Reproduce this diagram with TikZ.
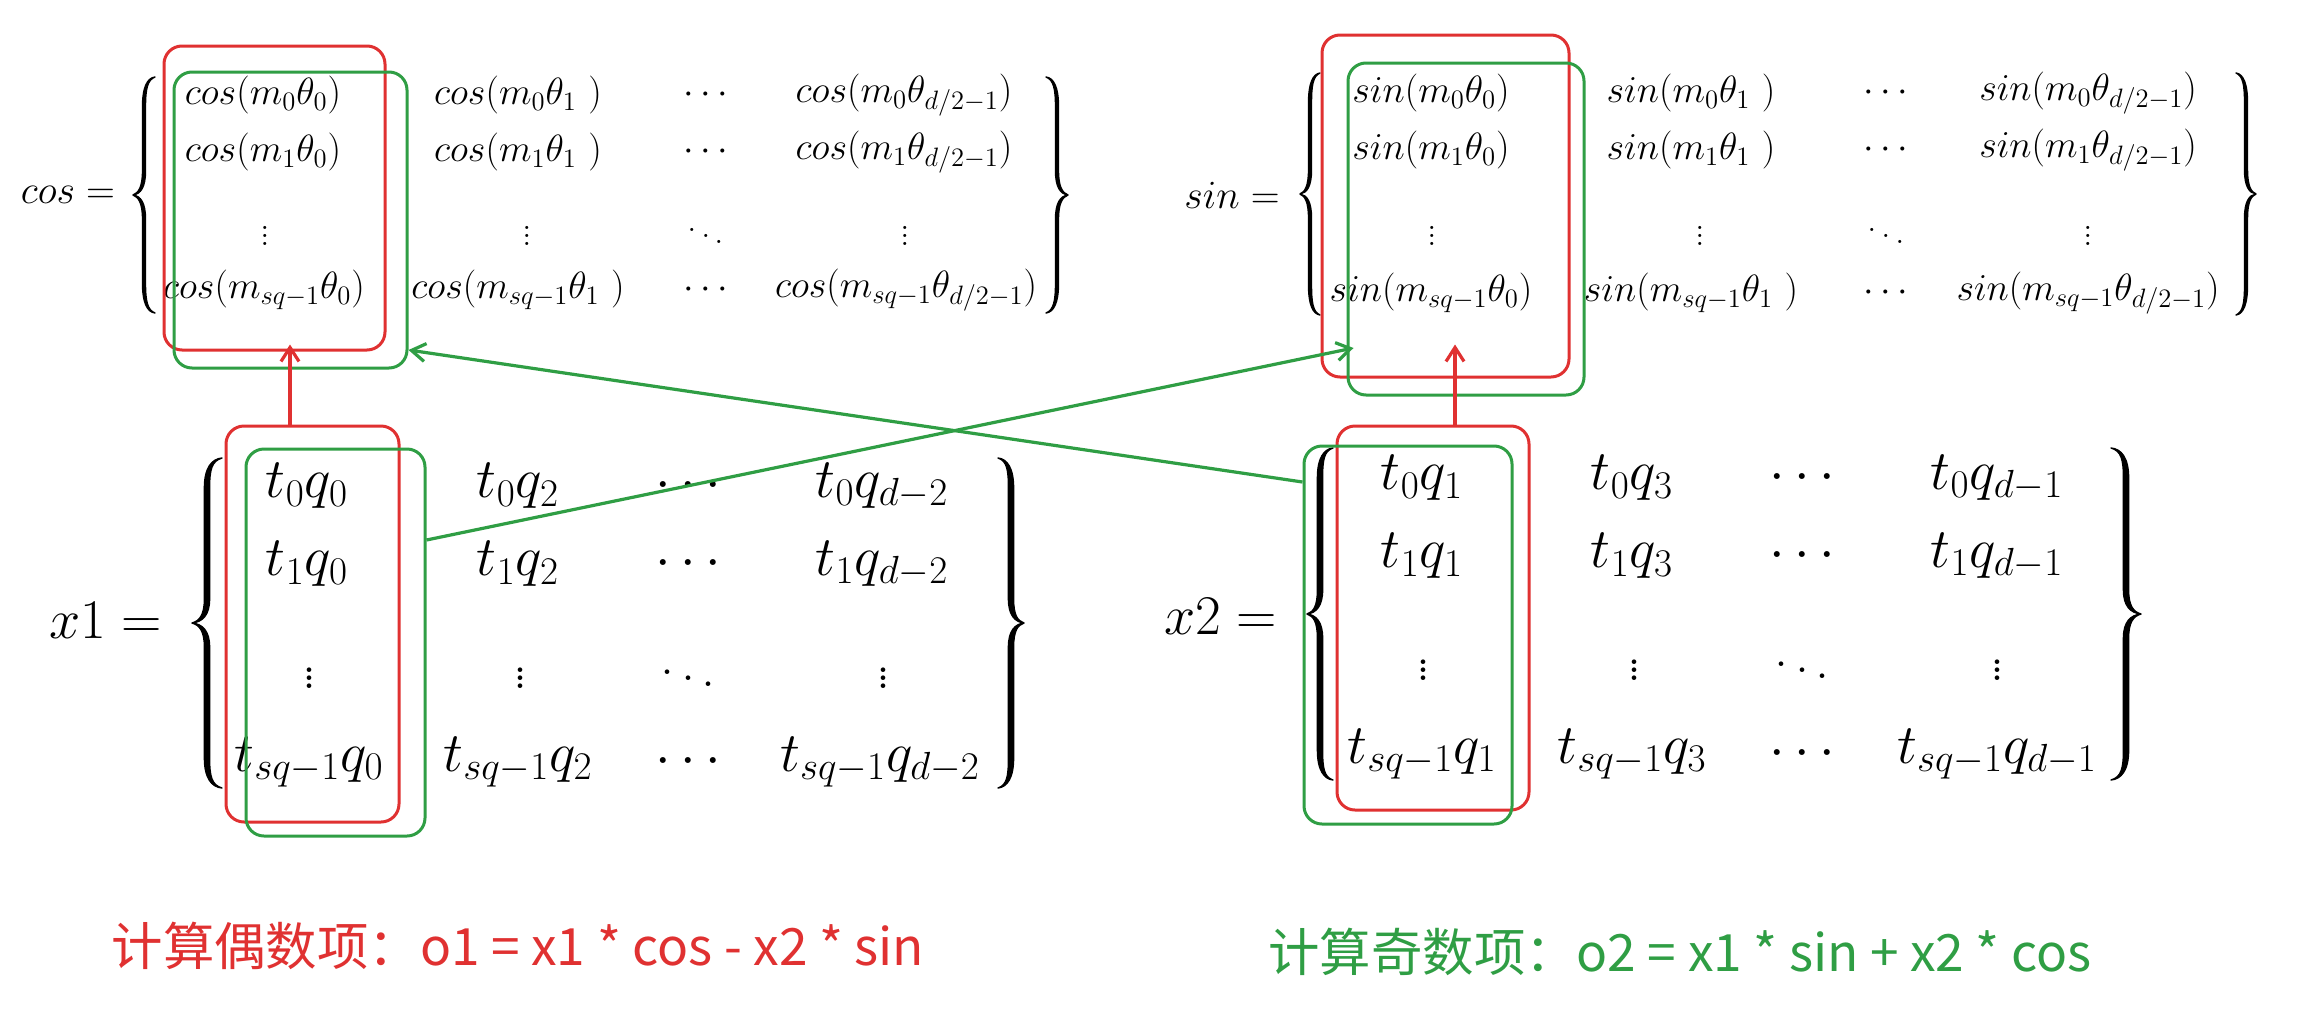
\RequirePackage{fix-cm}
\documentclass[tikz,border=0pt]{standalone}
\usepackage{fontspec}
\newfontfamily\cjk{Noto Sans CJK SC}
\usetikzlibrary{arrows.meta}
\definecolor{exred}{HTML}{E03131}
\definecolor{exgreen}{HTML}{2F9E44}
% tapered curly brace: #1 arm x, #2 top y, #3 middle y, #4 bottom y,
% #5 signed half width (positive: opens right), #6 signed half thickness (same sign)
\newcommand{\curlybrace}[6]{%
  \filldraw[line width=0.7pt, line join=round]
    ({#1+#5},#2) .. controls ({#1+0.3*#5},{#2+1}) and ({#1-#6},{#2+10}) .. ({#1-#6},{#2+30})
    -- ({#1-#6},{#3-24}) .. controls ({#1-#6},{#3-8}) and ({#1-0.5*#5},{#3-2}) .. ({#1-#5},#3)
    .. controls ({#1-0.5*#5},{#3+2}) and ({#1-#6},{#3+8}) .. ({#1-#6},{#3+24})
    -- ({#1-#6},{#4-30}) .. controls ({#1-#6},{#4-10}) and ({#1+0.3*#5},{#4-1}) .. ({#1+#5},#4)
    .. controls ({#1+0.3*#5},{#4-3}) and ({#1+#6},{#4-12}) .. ({#1+#6},{#4-30})
    -- ({#1+#6},{#3+24}) .. controls ({#1+#6},{#3+8}) and ({#1-0.3*#5},{#3+1}) .. ({#1-#5},#3)
    .. controls ({#1-0.3*#5},{#3-1}) and ({#1+#6},{#3-8}) .. ({#1+#6},{#3-24})
    -- ({#1+#6},{#2+30}) .. controls ({#1+#6},{#2+12}) and ({#1+0.3*#5},{#2+3}) .. ({#1+#5},#2)
    -- cycle;
}
\tikzset{
  box/.style={draw, rounded corners=9pt, line width=1.5pt, inner sep=0pt},
  rbox/.style={box, draw=exred},
  gbox/.style={box, draw=exgreen},
  ent/.style={inner sep=0pt, anchor=center},
  trig/.style={ent, font=\fontsize{19}{23}\selectfont},
  xent/.style={ent, font=\fontsize{28}{34}\selectfont},
  smlbl/.style={ent, font=\fontsize{20}{24}\selectfont},
  biglbl/.style={ent, font=\fontsize{28}{34}\selectfont},
  rconn/.style={line width=1.6pt, draw=exred, -{Straight Barb[length=7pt,width=9pt]}},
  gconn/.style={line width=1.6pt, draw=exgreen, -{Straight Barb[length=7pt,width=9pt]}},
  note/.style={ent, font=\cjk\fontsize{25.7}{30}\selectfont},
}
\begin{document}
\begin{tikzpicture}[x=0.5pt,y=-0.5pt]
\useasboundingbox (0,0) rectangle (2316,1028);
\fill[white] (0,0) rectangle (2316,1028);

% ---------- braces ----------
\curlybrace{144}{77}{195}{313}{11}{1.5}
\curlybrace{1057}{77}{195}{313}{-11}{-1.5}
\curlybrace{1310}{73}{194}{315}{10}{1.5}
\curlybrace{2246}{73}{194}{315}{-10}{-1.5}
\curlybrace{207}{458}{623}{788}{15}{2.6}
\curlybrace{1011}{458}{623}{788}{-13}{-2.6}
\curlybrace{1320}{448}{614}{780}{13}{2.6}
\curlybrace{2126}{448}{614}{780}{-15}{-2.6}

% ---------- cos matrix ----------
\node[smlbl] (coslbl) at (68,195) {$cos=$};
\node[trig] (c11) at (263,95) {$cos(m_0\theta_0)$};
\node[trig] (c12) at (518,95) {$cos(m_0\theta_1\ )$};
\node[trig] (c13) at (706,95) {$\cdots$};
\node[trig] (c14) at (904,95) {$cos(m_0\theta_{d/2-1})$};
\node[trig] (c21) at (263,152) {$cos(m_1\theta_0)$};
\node[trig] (c22) at (518,152) {$cos(m_1\theta_1\ )$};
\node[trig] (c23) at (706,152) {$\cdots$};
\node[trig] (c24) at (904,152) {$cos(m_1\theta_{d/2-1})$};
\node[trig] (c31) at (265,230) {$\vdots$};
\node[trig] (c32) at (527,230) {$\vdots$};
\node[trig] (c33) at (706,230) {$\ddots$};
\node[trig] (c34) at (905,230) {$\vdots$};
\node[trig] (c41) at (264,290) {$cos(m_{sq-1}\theta_0)$};
\node[trig] (c42) at (518,290) {$cos(m_{sq-1}\theta_1\ )$};
\node[trig] (c43) at (706,290) {$\cdots$};
\node[trig] (c44) at (906,290) {$cos(m_{sq-1}\theta_{d/2-1})$};

% ---------- sin matrix ----------
\node[smlbl] (sinlbl) at (1232,195) {$sin=$};
\node[trig] (s11) at (1431,93) {$sin(m_0\theta_0)$};
\node[trig] (s12) at (1691,93) {$sin(m_0\theta_1\ )$};
\node[trig] (s13) at (1886,93) {$\cdots$};
\node[trig] (s14) at (2088,93) {$sin(m_0\theta_{d/2-1})$};
\node[trig] (s21) at (1431,150) {$sin(m_1\theta_0)$};
\node[trig] (s22) at (1691,150) {$sin(m_1\theta_1\ )$};
\node[trig] (s23) at (1886,150) {$\cdots$};
\node[trig] (s24) at (2088,150) {$sin(m_1\theta_{d/2-1})$};
\node[trig] (s31) at (1432,230) {$\vdots$};
\node[trig] (s32) at (1700,230) {$\vdots$};
\node[trig] (s33) at (1886,230) {$\ddots$};
\node[trig] (s34) at (2088,230) {$\vdots$};
\node[trig] (s41) at (1431,293) {$sin(m_{sq-1}\theta_0)$};
\node[trig] (s42) at (1691,293) {$sin(m_{sq-1}\theta_1\ )$};
\node[trig] (s43) at (1886,293) {$\cdots$};
\node[trig] (s44) at (2088,293) {$sin(m_{sq-1}\theta_{d/2-1})$};

% ---------- x1 matrix ----------
\node[biglbl] (x1lbl) at (106,620) {$x1=$};
\node[xent] (a11) at (307,486) {$t_0q_0$};
\node[xent] (a12) at (518,486) {$t_0q_2$};
\node[xent] (a13) at (688,486) {$\cdots$};
\node[xent] (a14) at (882,486) {$t_0q_{d-2}$};
\node[xent] (a21) at (307,564) {$t_1q_0$};
\node[xent] (a22) at (518,564) {$t_1q_2$};
\node[xent] (a23) at (688,564) {$\cdots$};
\node[xent] (a24) at (882,564) {$t_1q_{d-2}$};
\node[xent] (a31) at (309,672) {$\vdots$};
\node[xent] (a32) at (520,672) {$\vdots$};
\node[xent] (a33) at (688,672) {$\ddots$};
\node[xent] (a34) at (883,672) {$\vdots$};
\node[xent] (a41) at (309,762) {$t_{sq-1}q_0$};
\node[xent] (a42) at (518,762) {$t_{sq-1}q_2$};
\node[xent] (a43) at (688,762) {$\cdots$};
\node[xent] (a44) at (880,762) {$t_{sq-1}q_{d-2}$};

% ---------- x2 matrix ----------
\node[biglbl] (x2lbl) at (1221,616) {$x2=$};
\node[xent] (b11) at (1422,478) {$t_0q_1$};
\node[xent] (b12) at (1632,478) {$t_0q_3$};
\node[xent] (b13) at (1802,478) {$\cdots$};
\node[xent] (b14) at (1997,478) {$t_0q_{d-1}$};
\node[xent] (b21) at (1422,556) {$t_1q_1$};
\node[xent] (b22) at (1632,556) {$t_1q_3$};
\node[xent] (b23) at (1802,556) {$\cdots$};
\node[xent] (b24) at (1997,556) {$t_1q_{d-1}$};
\node[xent] (b31) at (1423,664) {$\vdots$};
\node[xent] (b32) at (1634,664) {$\vdots$};
\node[xent] (b33) at (1802,664) {$\ddots$};
\node[xent] (b34) at (1997,664) {$\vdots$};
\node[xent] (b41) at (1422,754) {$t_{sq-1}q_1$};
\node[xent] (b42) at (1632,754) {$t_{sq-1}q_3$};
\node[xent] (b43) at (1802,754) {$\cdots$};
\node[xent] (b44) at (1997,754) {$t_{sq-1}q_{d-1}$};

% ---------- highlight boxes ----------
\node[rbox, minimum width=110.5pt, minimum height=152pt] (cosR) at (274.5,198) {};
\node[gbox, minimum width=116.5pt, minimum height=148pt] (cosG) at (290.5,220) {};
\node[rbox, minimum width=123.5pt, minimum height=171pt] (sinR) at (1445.5,206) {};
\node[gbox, minimum width=118pt, minimum height=166pt] (sinG) at (1466,229) {};
\node[rbox, minimum width=86.5pt, minimum height=198pt] (x1R) at (312.5,624) {};
\node[gbox, minimum width=89.5pt, minimum height=193.5pt] (x1G) at (335.5,642.5) {};
\node[rbox, minimum width=96pt, minimum height=192pt] (x2R) at (1433,618) {};
\node[gbox, minimum width=104pt, minimum height=189pt] (x2G) at (1408,635) {};

% ---------- connectors ----------
\draw[rconn] ([xshift=-11.25pt]x1R.north) -- ([xshift=7.75pt,yshift=3.5pt]cosR.south);
\draw[rconn] ([xshift=11pt]x2R.north) -- ([xshift=4.75pt,yshift=17pt]sinR.south);
\draw[gconn] ([yshift=76.5pt]x2G.west) -- ([yshift=-65pt]cosG.east);
\draw[gconn] ([yshift=51.25pt]x1G.east) -- ([xshift=3.5pt,yshift=-59.5pt]sinG.west);

% ---------- notes ----------
\node[note, text=exred] (noteodd) at (518,946) {计算偶数项：o1 = x1 * cos - x2 * sin};
\node[note, text=exgreen] (noteeven) at (1680,952) {计算奇数项：o2 = x1 * sin + x2 * cos};
\end{tikzpicture}
\end{document}
